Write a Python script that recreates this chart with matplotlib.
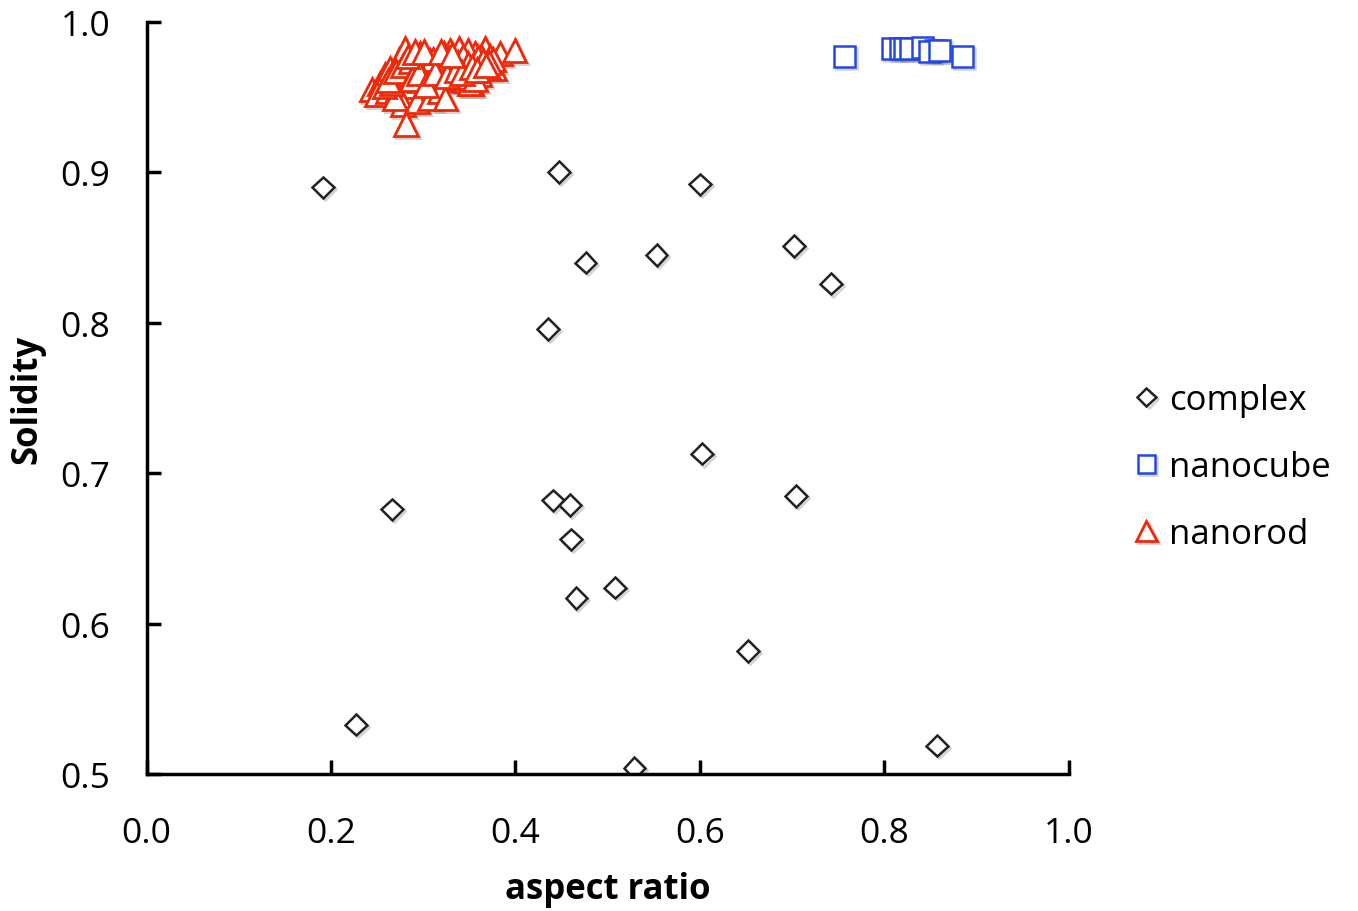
import matplotlib.pyplot as plt
import matplotlib.patheffects as pe

plt.rcParams['font.family'] = ['Open Sans', 'DejaVu Sans']

# complex particles
complex_x = [0.191, 0.447, 0.600, 0.476, 0.553, 0.702, 0.742, 0.435, 0.602, 0.704,
             0.266, 0.441, 0.459, 0.460, 0.508, 0.466, 0.652, 0.227, 0.529, 0.857]
complex_y = [0.890, 0.900, 0.892, 0.840, 0.845, 0.851, 0.826, 0.796, 0.713, 0.685,
             0.676, 0.682, 0.679, 0.656, 0.624, 0.617, 0.582, 0.533, 0.504, 0.519]

# nanocubes
cube_x = [0.757, 0.885, 0.809, 0.817, 0.822, 0.828, 0.841, 0.855, 0.849, 0.860]
cube_y = [0.977, 0.977, 0.982, 0.982, 0.982, 0.982, 0.983, 0.981, 0.980, 0.981]

# nanorods
rod_x = [0.244, 0.253, 0.258, 0.264, 0.269, 0.274, 0.280, 0.285, 0.291, 0.296,
         0.302, 0.307, 0.312, 0.318, 0.323, 0.329, 0.334, 0.339, 0.345, 0.350,
         0.356, 0.361, 0.367, 0.372, 0.377, 0.383, 0.399,
         0.250, 0.261, 0.272, 0.280, 0.287, 0.296, 0.305, 0.312, 0.320, 0.329,
         0.337, 0.346, 0.352, 0.361, 0.370, 0.376,
         0.278, 0.293, 0.307, 0.318, 0.324, 0.345, 0.350,
         0.281, 0.269, 0.258, 0.296, 0.307, 0.323, 0.334, 0.339, 0.356, 0.363,
         0.348, 0.285, 0.276, 0.266,
         0.262, 0.270, 0.278, 0.286, 0.292, 0.299, 0.305, 0.310, 0.315, 0.321,
         0.327, 0.332, 0.338, 0.343, 0.349, 0.354, 0.359, 0.365, 0.371, 0.300,
         0.288, 0.295, 0.303, 0.313, 0.326, 0.336, 0.342, 0.353, 0.358, 0.368,
         0.283, 0.291, 0.301, 0.319, 0.331]
rod_y = [0.955, 0.959, 0.965, 0.969, 0.962, 0.975, 0.982, 0.969, 0.972, 0.979,
         0.975, 0.965, 0.972, 0.977, 0.979, 0.981, 0.975, 0.982, 0.969, 0.975,
         0.979, 0.972, 0.982, 0.977, 0.969, 0.979, 0.981,
         0.952, 0.954, 0.955, 0.950, 0.957, 0.961, 0.963, 0.959, 0.962, 0.965,
         0.967, 0.962, 0.959, 0.965, 0.970, 0.975,
         0.945, 0.947, 0.949, 0.954, 0.949, 0.961, 0.959,
         0.932, 0.949, 0.957, 0.969, 0.974, 0.970, 0.971, 0.963, 0.962, 0.977,
         0.981, 0.962, 0.965, 0.959,
         0.961, 0.967, 0.971, 0.974, 0.968, 0.971, 0.969, 0.975, 0.967, 0.973,
         0.976, 0.970, 0.973, 0.977, 0.972, 0.968, 0.976, 0.974, 0.973, 0.962,
         0.962, 0.966, 0.958, 0.966, 0.964, 0.968, 0.966, 0.970, 0.968, 0.971,
         0.977, 0.980, 0.980, 0.980, 0.978]

fig = plt.figure(figsize=(13.58, 9.12), dpi=100)
ax = fig.add_axes([0.108, 0.150, 0.679, 0.825])

shadow = [pe.SimpleLineShadow(offset=(1.5, -1.5), shadow_color='gray', alpha=0.35), pe.Normal()]

ax.plot(complex_x, complex_y, linestyle='none', marker='D', markersize=11,
        markerfacecolor='white', markeredgecolor='#222222', markeredgewidth=1.8,
        label='complex', path_effects=shadow)
ax.plot(cube_x, cube_y, linestyle='none', marker='s', markersize=15,
        markerfacecolor='white', markeredgecolor='#2448e0', markeredgewidth=1.8,
        label='nanocube', path_effects=shadow)
ax.plot(rod_x, rod_y, linestyle='none', marker='^', markersize=17,
        markerfacecolor='white', markeredgecolor='#f0280a', markeredgewidth=2.0,
        label='nanorod', path_effects=shadow)

ax.set_xlim(0, 1.0)
ax.set_ylim(0.5, 1.0)
ax.set_xticks([0.0, 0.2, 0.4, 0.6, 0.8, 1.0])
ax.set_yticks([0.5, 0.6, 0.7, 0.8, 0.9, 1.0])
ax.xaxis.set_major_formatter(plt.FormatStrFormatter('%.1f'))
ax.yaxis.set_major_formatter(plt.FormatStrFormatter('%.1f'))
for s in ['top', 'right']:
    ax.spines[s].set_visible(False)
for s in ['left', 'bottom']:
    ax.spines[s].set_linewidth(2.5)
ax.tick_params(direction='in', length=10, width=2.5, labelsize=25.5)
ax.tick_params(axis='y', pad=26)
ax.tick_params(axis='x', pad=30)
ax.set_xlabel('aspect ratio', fontsize=25, fontweight='bold', labelpad=15)
ax.set_ylabel('Solidity', fontsize=25, fontweight='bold')
ax.yaxis.set_label_coords(-0.110, 0.5)

fig.legend(loc='center left', bbox_to_anchor=(0.8225, 0.487), frameon=False,
           fontsize=25, handlelength=0.7, handletextpad=0.3, labelspacing=0.95,
           borderpad=0, markerscale=0.85)

fig.savefig('out.png', dpi=100)
